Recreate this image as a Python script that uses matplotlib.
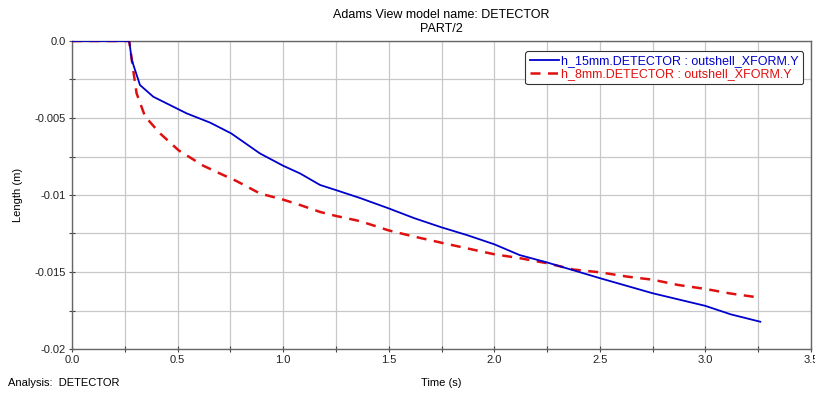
import matplotlib
matplotlib.use("Agg")
import matplotlib.pyplot as plt
from matplotlib.ticker import MultipleLocator, FixedFormatter, FixedLocator

plt.rcParams['font.family'] = ['Liberation Sans', 'DejaVu Sans']

# h_15mm curve (time in s, displacement in m)
t_15 = [0.0, 0.271, 0.283, 0.322, 0.385, 0.464, 0.543, 0.654, 0.754, 0.89, 1.0,
        1.08, 1.175, 1.25, 1.365, 1.5, 1.62, 1.75, 1.87, 2.0, 2.12, 2.25,
        2.5, 2.75, 3.0, 3.12, 3.26]
y_15 = [0.0, 0.0, -0.00123, -0.00286, -0.00362, -0.00416, -0.0047, -0.0053, -0.0060,
        -0.0073, -0.0081, -0.0086, -0.00935, -0.00968, -0.0102, -0.01087, -0.0115,
        -0.0121, -0.0126, -0.0132, -0.0139, -0.01438, -0.0154, -0.01638, -0.0172,
        -0.01775, -0.01823]

# h_8mm curve
t_8 = [0.0, 0.271, 0.29, 0.306, 0.346, 0.417, 0.505, 0.622, 0.70, 0.78, 0.89, 1.0,
       1.08, 1.175, 1.25, 1.365, 1.5, 1.62, 1.75, 1.87, 2.0, 2.12, 2.25, 2.375,
       2.5, 2.63, 2.75, 2.87, 3.0, 3.12, 3.25]
y_8 = [0.0, 0.0, -0.0019, -0.0034, -0.0049, -0.0060, -0.0071, -0.0081, -0.0086,
       -0.0091, -0.0099, -0.0103, -0.01065, -0.0111, -0.01136, -0.0117, -0.0123,
       -0.0127, -0.0131, -0.01346, -0.01385, -0.0141, -0.01443, -0.01484, -0.01502,
       -0.0153, -0.0155, -0.01584, -0.0161, -0.0164, -0.01665]

label_15 = "h_15mm.DETECTOR : outshell_XFORM.Y"
label_8 = "h_8mm.DETECTOR : outshell_XFORM.Y"

x_ticks = [0.0, 0.5, 1.0, 1.5, 2.0, 2.5, 3.0, 3.5]
x_tick_labels = ["0.0", "0.5", "1.0", "1.5", "2.0", "2.5", "3.0", "3.5"]
y_ticks = [0.0, -0.005, -0.01, -0.015, -0.02]
y_tick_labels = ["0.0", "-0.005", "-0.01", "-0.015", "-0.02"]

fig = plt.figure(figsize=(8.15, 3.93), dpi=100)
ax = fig.add_axes([72 / 815, 1 - 349 / 393, (811 - 72) / 815, (349 - 41) / 393])

ax.plot(t_8, y_8, color="#e01010", linewidth=1.8, dashes=(4, 3), label=label_8, zorder=3)
ax.plot(t_15, y_15, color="#0000cc", linewidth=1.3, label=label_15, zorder=4)

ax.set_xlim(0, 3.5)
ax.set_ylim(-0.02, 0.0)
ax.xaxis.set_major_locator(FixedLocator(x_ticks))
ax.xaxis.set_major_formatter(FixedFormatter(x_tick_labels))
ax.yaxis.set_major_locator(FixedLocator(y_ticks))
ax.yaxis.set_major_formatter(FixedFormatter(y_tick_labels))
ax.xaxis.set_minor_locator(MultipleLocator(0.25))
ax.yaxis.set_minor_locator(MultipleLocator(0.0025))

ax.grid(True, which="both", color="#c8c8c8", linewidth=0.9, zorder=0)
ax.tick_params(which="both", direction="inout", length=5, width=0.8, colors="#444444",
               labelsize=8, labelcolor="#222222", pad=2)
for s in ax.spines.values():
    s.set_color("#666666")
    s.set_linewidth(1.0)

for lab in ax.get_xticklabels():
    lab.set_family(['Liberation Sans Narrow', 'Liberation Sans', 'DejaVu Sans'])

ax.set_ylabel("Length (m)", fontsize=8, labelpad=8)
fig.text(441 / 815, 1 - 383 / 393, "Time (s)", fontsize=8, ha="center", va="center",
         family=['Liberation Sans Narrow', 'Liberation Sans'])
fig.text(8 / 815, 1 - 383 / 393, "Analysis:  DETECTOR", fontsize=8, ha="left", va="center",
         family=['Liberation Sans Narrow', 'Liberation Sans'])
fig.text(441 / 815, 1 - 15 / 393, "Adams View model name: DETECTOR", fontsize=9,
         ha="center", va="center")
fig.text(441 / 815, 1 - 29 / 393, "PART/2", fontsize=9, ha="center", va="center")

handles, labels = ax.get_legend_handles_labels()
leg = ax.legend(handles[::-1], labels[::-1], loc="upper right", fontsize=9,
                handlelength=2.3, handletextpad=0.2, borderpad=0.35, labelspacing=0.05,
                borderaxespad=0, fancybox=True, framealpha=1, edgecolor="#333333",
                bbox_to_anchor=(803 / 815 * 815 / 739 - 72 / 739, 1 - 10 / 308))
leg.get_frame().set_linewidth(0.8)
for txt, c in zip(leg.get_texts(), ["#0000cc", "#e01010"]):
    txt.set_color(c)

fig.savefig("out.png", dpi=100)
